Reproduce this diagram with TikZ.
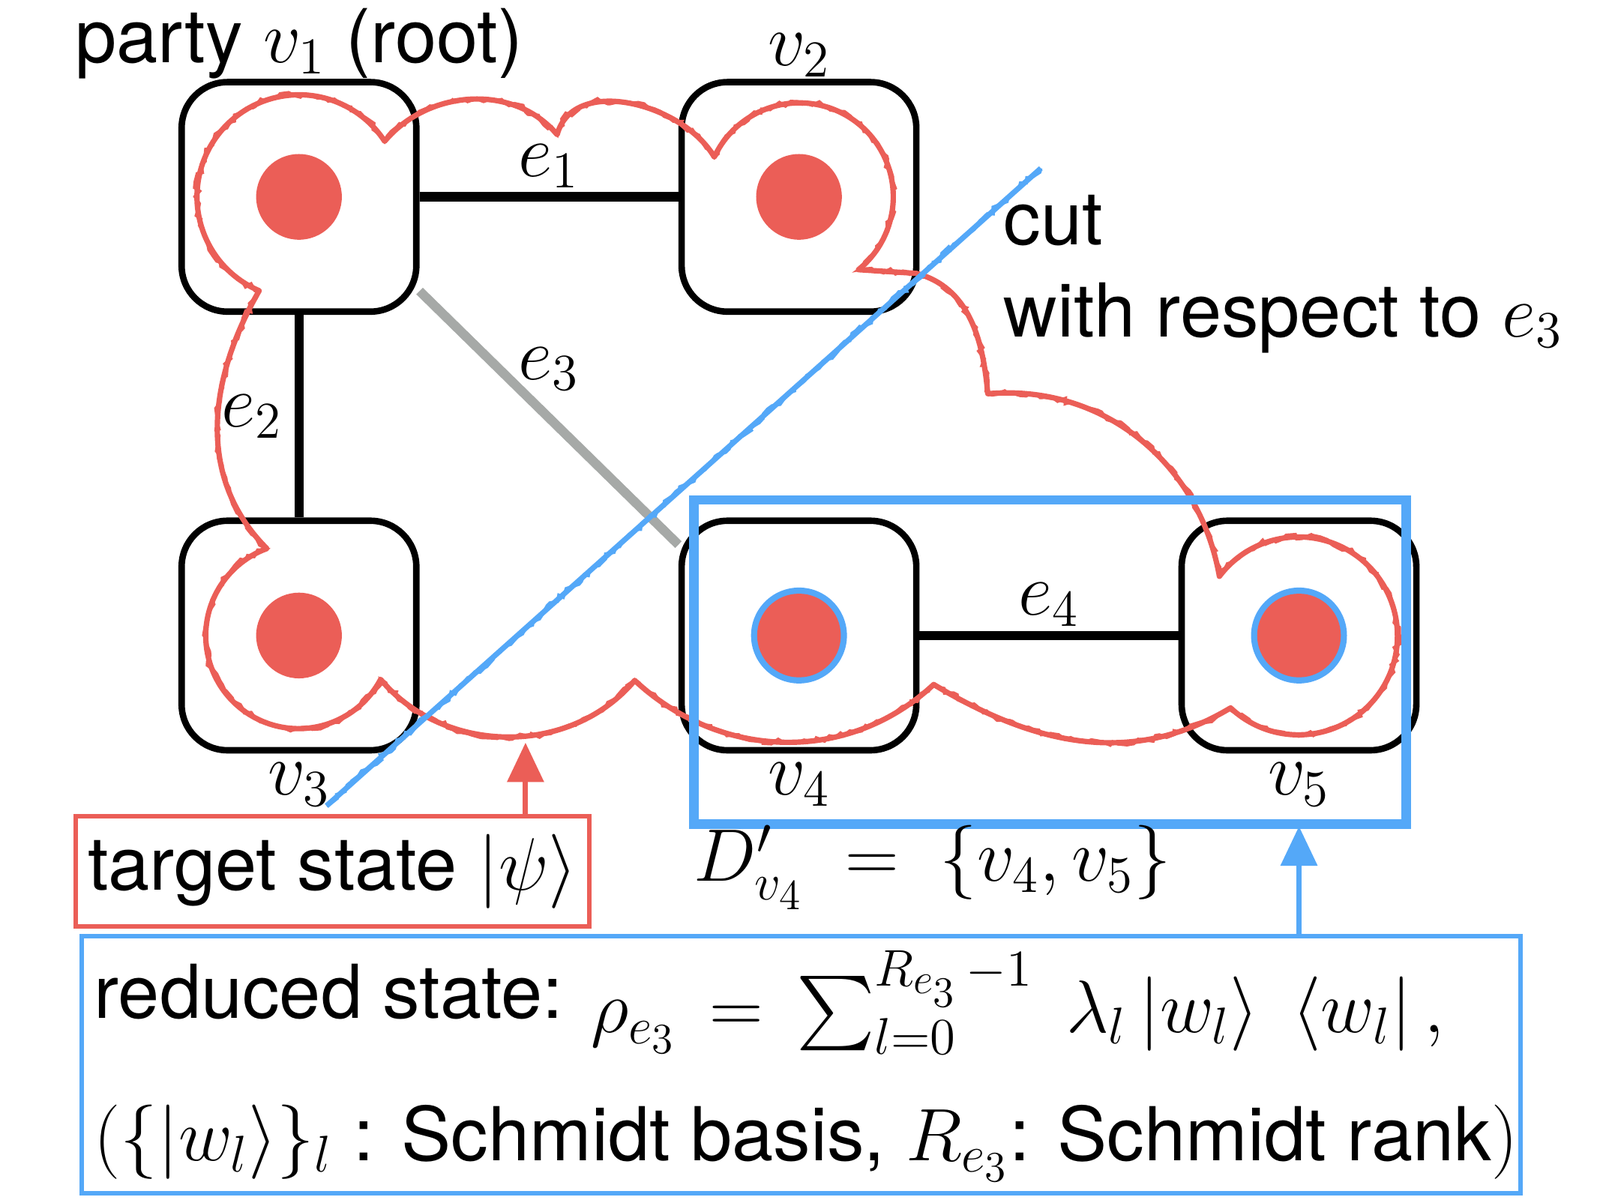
\documentclass[tikz,border=0pt]{standalone}
\usepackage{amsmath,amssymb}
\usepackage[no-math]{fontspec}
\setmainfont{TeX Gyre Heros}
\usepackage{tikz}
\usetikzlibrary{arrows.meta,positioning,decorations.pathmorphing}
\definecolor{DotRed}{RGB}{235,94,87}
\definecolor{CutBlue}{RGB}{84,168,248}
\definecolor{EdgeGray}{RGB}{166,169,167}
\tikzset{
  party/.style={draw,line width=1.8pt,rounded corners=0.45cm,
    minimum width=2.3cm,minimum height=2.25cm},
  edge/.style={line width=2.6pt},
  crayon/.style={draw=#1,line width=1.5pt,line join=round,
    preaction={draw=#1,line width=0.9pt,decorate,
      decoration={random steps,segment length=1.5pt,amplitude=0.8pt}}},
  infobox/.style={draw,line width=1.3pt}
}

\begin{document}
\begin{tikzpicture}[font=\huge,>={Triangle[length=11pt,width=10pt]}]
      \useasboundingbox (0,0) rectangle (15.68,-11.76);
      \node[party] (v1) at (2.93,-1.93) {};
      \node[party] (v2) at (7.83,-1.93) {};
      \node[party] (v3) at (2.93,-6.23) {};
      \node[party] (v4) at (7.83,-6.23) {};
      \node[party] (v5) at (12.73,-6.23) {};
      \draw[edge] (v1) -- node[above=-2pt] {$e_1$} (v2);
      \draw[edge] (v1) -- node[left] {$e_2$} (v3);
      \draw[edge,EdgeGray] (v1.-38) -- node[above=3pt,text=black] {$e_3$} (v4.143.5);
      \draw[edge] (v4) -- node[above=-2pt] {$e_4$} (v5);
      \foreach \p in {v1,v2,v3}
        \fill[DotRed] (\p) circle (0.42);
      \foreach \p in {v4,v5} {
        \fill[CutBlue] (\p) circle (0.47);
        \fill[DotRed] (\p) circle (0.41);
      }
      \node[above=-3.5pt of v1] (lv1) {party $v_1$ (root)};
      \node[above=-3pt of v2] (lv2) {$v_2$};
      \node[below=-1pt of v3] (lv3) {$v_3$};
      \node[below=-1pt of v4] (lv4) {$v_4$};
      \node[below=-1pt of v5] (lv5) {$v_5$};
      % target state
      \draw[crayon=DotRed] (2.54,-2.85)
        arc[start angle=247,end angle=33,radius=1]
        to[out=50,in=130] (5.46,-1.32)
        to[out=75,in=120] (7.00,-1.54)
        arc[start angle=155,end angle=-51,radius=0.92]
        -- (8.98,-2.68)
        to[out=-15,in=95] (9.68,-3.86)
        to[out=5,in=100] (11.95,-5.65)
        arc[start angle=143,end angle=-133.3,radius=0.97]
        to[out=-149,in=-31] (9.15,-6.71)
        to[out=-137,in=-43] (6.22,-6.67)
        to[out=-130,in=-50] (3.73,-6.66)
        arc[start angle=332,end angle=110,radius=0.91]
        to[out=135,in=-120] (2.54,-2.85) -- cycle;
      % cut
      \coordinate (cutA) at (3.2,-7.9);
      \coordinate (cutB) at (10.2,-1.65);
      \draw[crayon=CutBlue,line width=1.5pt] (cutA) -- (cutB);
      \node[anchor=base west] (cut) at (9.71,-2.40) {cut};
      \node[anchor=base west] (wrt) at (9.71,-3.30) {with respect to $e_3$};
      \node[draw=CutBlue,line width=2.6pt,minimum width=6.98cm,
        minimum height=3.18cm] (Dset) at (10.29,-6.49) {};
      \node[anchor=base west,inner sep=1pt] (Dlabel) at (6.76,-8.64)
        {$D'_{v_4}\;=\;\{v_4,v_5\}$};
      \node[infobox,draw=DotRed,minimum width=4.92cm,minimum height=1.08cm]
        (target) at (3.26,-8.54) {target state $|\psi\rangle$};
      \coordinate (tgttip) at (5.15,-7.28);
      \draw[->,DotRed,line width=1.5pt] (target.north -| tgttip) -- (tgttip);
      \node[infobox,draw=CutBlue,minimum width=14.1cm,minimum height=2.52cm]
        (reduced) at (7.85,-10.44) {};
      \node[anchor=base west] (rs) at (0.80,-9.98) {reduced state:
        \raisebox{-4pt}{$\rho_{e_3} \,=\, \sum_{l=0}^{R_{e_3}\,-1} \;\lambda_l
        \left|w_l\right\rangle \; \left\langle w_l\right|,$}};
      \node[anchor=base west] (sb) at (0.80,-11.38) {$(\{\left|w_l\right\rangle\}_l$
        : Schmidt basis, $R_{e_3}$: Schmidt rank$)$};
      \coordinate (bluetip) at (12.73,-8.10);
      \draw[->,CutBlue,line width=1.5pt] (reduced.north -| bluetip) -- (bluetip);
    \end{tikzpicture}
\end{document}
